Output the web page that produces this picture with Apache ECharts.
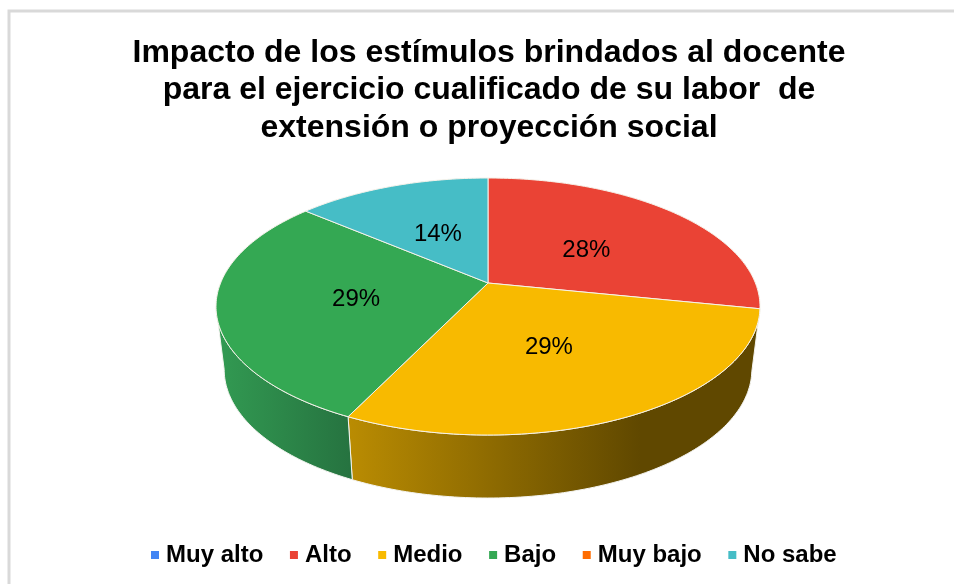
<!DOCTYPE html>
<html>
<head>
<meta charset="utf-8">
<style>html,body{margin:0;padding:0;background:#fff}#c{width:954px;height:584px}</style>
<script src="https://cdn.jsdelivr.net/npm/echarts@6/dist/echarts.min.js"></script>
</head>
<body>
<div id="c"></div>
<script>
const titleText = 'Impacto de los estímulos brindados al docente\npara el ejercicio cualificado de su labor  de\nextensión o proyección social';
const categories = ['Muy alto', 'Alto', 'Medio', 'Bajo', 'Muy bajo', 'No sabe'];
const values = [0, 28.2, 29, 29, 0, 13.8];
const colors = ['#4285F4', '#EA4335', '#F8BA00', '#34A853', '#FF6D01', '#46BDC6'];
const labelRatio = [0, 0.53, 0.43, 0.485, 0, 0.52];
const labelNudgeY = [0, 4.5, 7, 3.5, 0, 1.5];

// Projected pie geometry (perspective tilt like the original 3D pie)
const CX = 488, CY = 283, R = 267.4, H = 124.2, K = 0.183, DEPTH = 63, BOTTOM_SCALE = 0.97;
const sideFill = {
  Medio: { x: 348, x2: 640, stops: ['#BA8C02', '#604800'] },
  Bajo: { x: 218, x2: 350, stops: ['#329A52', '#267340'] }
};

const total = values.reduce((a, b) => a + b, 0);
// Angles at which the rim reaches its left and right extremes (silhouette of the side wall)
const SIL_R = Math.acos(-K) * 180 / Math.PI, SIL_L = 360 - SIL_R;
function rim(deg) {
  const t = deg * Math.PI / 180, u = Math.sin(t), v = Math.cos(t), w = 1 + K * v;
  return [CX + R * u / w, CY - H * v / w];
}
function lower(p) {
  return [CX + (p[0] - CX) * BOTTOM_SCALE, p[1] + DEPTH];
}
function arc(a, b) {
  const pts = [];
  const n = Math.max(2, Math.ceil(b - a));
  for (let i = 0; i <= n; i++) pts.push(rim(a + (b - a) * i / n));
  return pts;
}
function makeRender(idx) {
  return function () {
    if (!values[idx]) return null;
    let sum = 0;
    for (let i = 0; i < idx; i++) sum += values[i];
    const a = sum / total * 360, b = (sum + values[idx]) / total * 360, mid = (a + b) / 2;
    const children = [];
    const fill = sideFill[categories[idx]];
    const sa = Math.max(a, SIL_R), sb = Math.min(b, SIL_L);
    if (fill && sb > sa) {
      const sidePts = arc(sa, sb);
      children.push({
        type: 'polygon',
        shape: { points: sidePts.concat(sidePts.map(lower).reverse()) },
        style: {
          fill: {
            type: 'linear', global: true, x: fill.x, y: 0, x2: fill.x2, y2: 0,
            colorStops: [{ offset: 0, color: fill.stops[0] }, { offset: 1, color: fill.stops[1] }]
          },
          stroke: '#F4F4F0', lineWidth: 1
        }
      });
    }
    children.push({
      type: 'polygon',
      shape: { points: [[CX, CY]].concat(arc(a, b)) },
      style: { fill: colors[idx], stroke: '#F6F2EA', lineWidth: 1, lineJoin: 'round' }
    });
    const m = rim(mid), r = labelRatio[idx];
    children.push({
      type: 'text',
      x: CX + (m[0] - CX) * r,
      y: CY + (m[1] - CY) * r + labelNudgeY[idx],
      style: {
        text: Math.round(values[idx] / total * 100) + '%',
        fill: '#000', font: '24px "Liberation Sans"',
        align: 'center', verticalAlign: 'middle'
      }
    });
    return { type: 'group', children };
  };
}

const chart = echarts.init(document.getElementById('c'), null, { renderer: 'canvas' });
chart.setOption({
  animation: false,
  backgroundColor: '#fff',
  title: {
    text: titleText,
    left: 484, top: 29, textAlign: 'center',
    textStyle: { fontFamily: 'Liberation Sans', fontWeight: 'bold', fontSize: 32, lineHeight: 37.5, color: '#000' }
  },
  legend: {
    data: categories,
    left: 146, top: 538,
    icon: 'rect', itemWidth: 8, itemHeight: 8, itemGap: 26.6,
    selectedMode: false,
    textStyle: { fontFamily: 'Liberation Sans', fontWeight: 'bold', fontSize: 24, color: '#000', padding: [0, 0, 0, 2] }
  },
  graphic: [{
    type: 'polyline', silent: true, z: -1,
    shape: { points: [[9, 584], [9, 11], [954, 11]] },
    style: { stroke: '#D9D9D9', lineWidth: 3, fill: null }
  }],
  series: categories.map((name, i) => ({
    type: 'custom',
    name,
    coordinateSystem: 'none',
    silent: true,
    itemStyle: { color: colors[i] },
    data: [values[i]],
    renderItem: makeRender(i)
  }))
});
</script>
</body>
</html>
